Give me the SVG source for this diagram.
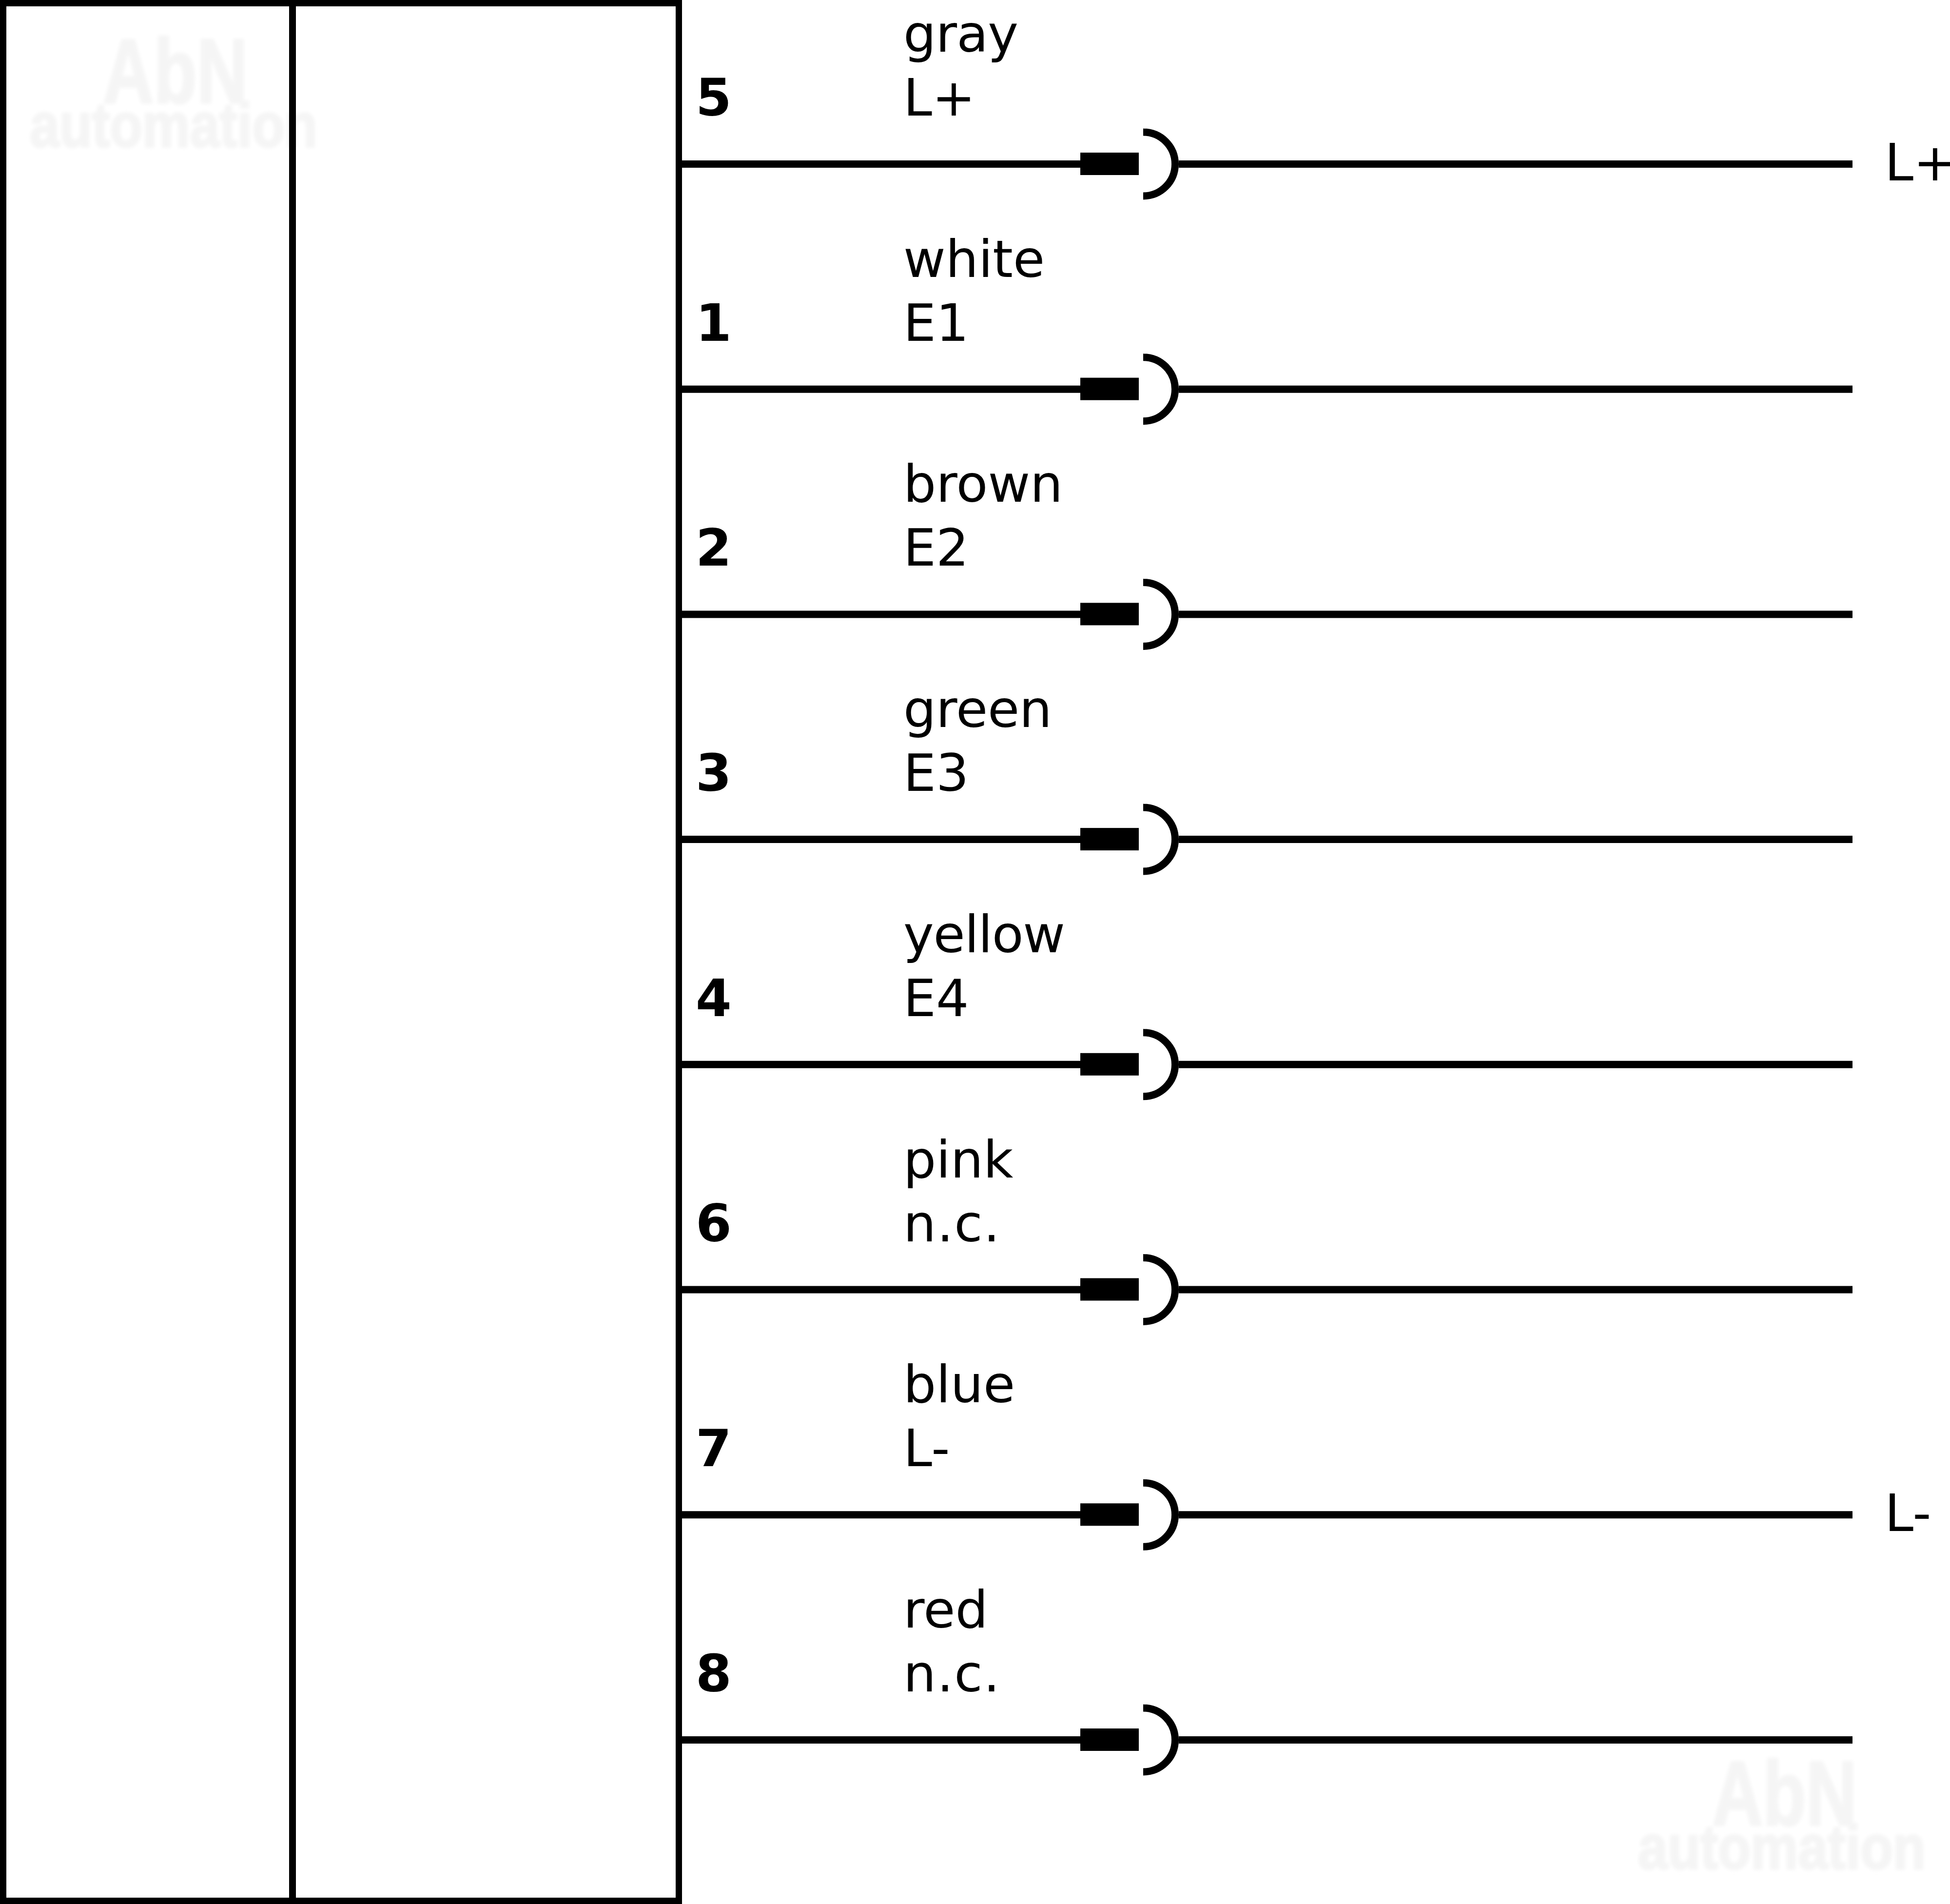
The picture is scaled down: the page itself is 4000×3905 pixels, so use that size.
<svg xmlns="http://www.w3.org/2000/svg" width="4000" height="3905" viewBox="0 0 4000 3905">
<style>
text{font-family:"DejaVu Sans","Verdana",sans-serif;font-size:106px;fill:#000}
.num{font-weight:bold}
.wm{font-family:"Liberation Sans",Arial,sans-serif;font-weight:bold;fill:#f5f5f5;stroke:#f5f5f5;stroke-width:4;filter:url(#soft)}
.abn{font-size:188px}
.auto{font-size:128px}
.line{fill:none;stroke:#000;stroke-width:15}
.frame{fill:none;stroke:#000;stroke-width:13}
</style>
<defs>
<filter id="soft" x="-5%" y="-10%" width="110%" height="120%"><feGaussianBlur stdDeviation="3.5"/></filter>
<g id="plug"><rect x="2216" y="-23.5" width="120" height="46" fill="#000"/><path class="line" d="M2346 -65.5H2345A65.5 65.5 0 0 1 2345 65.5"/></g>
</defs>
<rect width="4000" height="3905" fill="#fff"/>
<g id="watermark-top">
<text class="wm abn" x="211" y="211" textLength="297" lengthAdjust="spacingAndGlyphs">AbN</text>
<text class="wm auto" x="61" y="301" textLength="590" lengthAdjust="spacingAndGlyphs">automation</text>
</g>
<g id="watermark-bottom">
<text class="wm abn" x="3512" y="3743" textLength="297" lengthAdjust="spacingAndGlyphs">AbN</text>
<text class="wm auto" x="3360" y="3833" textLength="590" lengthAdjust="spacingAndGlyphs">automation</text>
</g>
<g id="device">
<rect class="frame" x="6.5" y="6.5" width="1386" height="3892"/>
<line class="frame" x1="600" y1="0" x2="600" y2="3905" style="stroke-width:14"/>
</g>
<g id="connectors">
<path class="line" d="M1399 336.5H2216M2418 336.5H3800"/>
<path class="line" d="M1399 798.2H2216M2418 798.2H3800"/>
<path class="line" d="M1399 1259.9H2216M2418 1259.9H3800"/>
<path class="line" d="M1399 1721.6H2216M2418 1721.6H3800"/>
<path class="line" d="M1399 2183.3H2216M2418 2183.3H3800"/>
<path class="line" d="M1399 2645H2216M2418 2645H3800"/>
<path class="line" d="M1399 3106.8H2216M2418 3106.8H3800"/>
<path class="line" d="M1399 3568.5H2216M2418 3568.5H3800"/>
</g>
<g id="pin-5"><use href="#plug" y="336.5"/><text class="num" x="1427" y="237">5</text><text x="1853" y="106" textLength="236">gray</text><text x="1853" y="237">L+</text><text x="3866" y="370">L+</text></g>
<g id="pin-1"><use href="#plug" y="798.2"/><text class="num" x="1427" y="698.7">1</text><text x="1853" y="567.7">white</text><text x="1853" y="698.7">E1</text></g>
<g id="pin-2"><use href="#plug" y="1259.9"/><text class="num" x="1427" y="1160.4">2</text><text x="1853" y="1029.4">brown</text><text x="1853" y="1160.4">E2</text></g>
<g id="pin-3"><use href="#plug" y="1721.6"/><text class="num" x="1427" y="1622.1">3</text><text x="1853" y="1491.1" textLength="305">green</text><text x="1853" y="1622.1">E3</text></g>
<g id="pin-4"><use href="#plug" y="2183.3"/><text class="num" x="1427" y="2083.8">4</text><text x="1853" y="1952.8" textLength="332">yellow</text><text x="1853" y="2083.8">E4</text></g>
<g id="pin-6"><use href="#plug" y="2645"/><text class="num" x="1427" y="2545.5">6</text><text x="1853" y="2414.5">pink</text><text x="1853" y="2545.5" textLength="198">n.c.</text></g>
<g id="pin-7"><use href="#plug" y="3106.8"/><text class="num" x="1427" y="3007.3">7</text><text x="1853" y="2876.3">blue</text><text x="1853" y="3007.3">L-</text><text x="3866" y="3140.3">L-</text></g>
<g id="pin-8"><use href="#plug" y="3568.5"/><text class="num" x="1427" y="3469">8</text><text x="1853" y="3338">red</text><text x="1853" y="3469" textLength="198">n.c.</text></g>
</svg>
